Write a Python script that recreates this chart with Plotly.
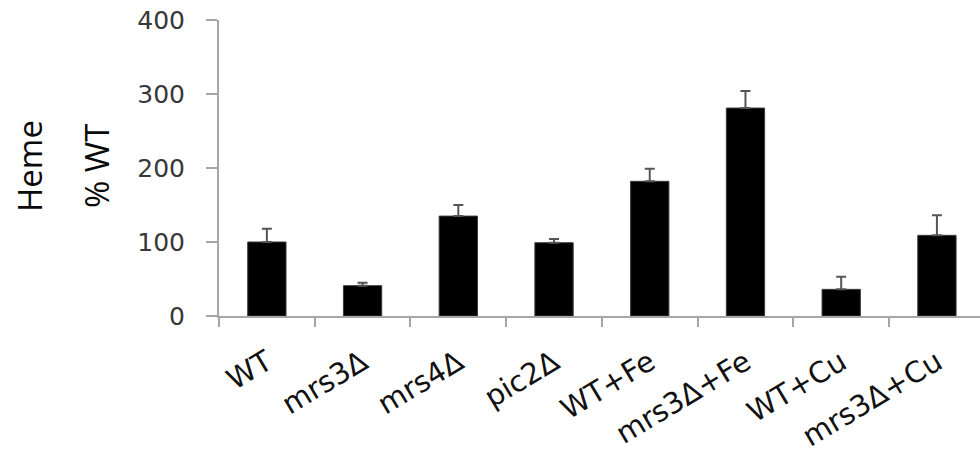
import plotly.graph_objects as go

# Heme content relative to wild type (%), mean with upper error
strains = ["WT", "mrs3Δ", "mrs4Δ", "pic2Δ", "WT+Fe", "mrs3Δ+Fe", "WT+Cu", "mrs3Δ+Cu"]
heme_pct = [100, 41, 135, 99, 182, 281, 36, 109]
heme_err = [18, 4, 15, 5, 17, 23, 17, 27]
y_ticks = [0, 100, 200, 300, 400]

axis_grey = "#a6a6a6"
label_grey = "#383838"

fig = go.Figure(
    go.Bar(
        x=strains,
        y=heme_pct,
        marker=dict(color="black", line=dict(color="#3a3a3a", width=1)),
        error_y=dict(
            type="data",
            symmetric=False,
            array=heme_err,
            arrayminus=[0] * len(heme_err),
            color="#555555",
            thickness=2,
            width=5,
        ),
        showlegend=False,
    )
)

fig.update_layout(
    width=980,
    height=460,
    margin=dict(l=219, r=0, t=20, b=144),
    paper_bgcolor="white",
    plot_bgcolor="white",
    bargap=0.6,
    font=dict(family="DejaVu Sans", color=label_grey),
    xaxis=dict(
        type="category",
        range=[-0.5, 7.45],
        showline=True,
        linecolor=axis_grey,
        linewidth=2,
        ticks="outside",
        tickson="boundaries",
        ticklen=9,
        tickwidth=2,
        tickcolor=axis_grey,
        tickangle=-31,
        ticklabelstandoff=16,
        tickfont=dict(family="DejaVu Sans", size=29, color="#111111"),
        showgrid=False,
        zeroline=False,
    ),
    yaxis=dict(
        range=[0, 400],
        tickvals=y_ticks,
        showline=True,
        linecolor=axis_grey,
        linewidth=2,
        ticks="outside",
        ticklen=11,
        tickwidth=2,
        tickcolor=axis_grey,
        ticklabelstandoff=16,
        tickfont=dict(family="DejaVu Sans", size=25, color=label_grey),
        showgrid=False,
        zeroline=False,
    ),
    annotations=[
        dict(
            text="Heme", x=29, y=166, xref="paper", yref="paper",
            textangle=-90, showarrow=False,
            font=dict(family="Open Sans", size=33, color="#0a0a0a"),
        ),
        dict(
            text="% WT", x=96, y=166, xref="paper", yref="paper",
            textangle=-90, showarrow=False,
            font=dict(family="Open Sans", size=33, color="#0a0a0a"),
        ),
    ],
)

# place the two-line axis title in pixel coordinates
plot_w = 980 - 219
plot_h = 460 - 20 - 144
for ann in fig.layout.annotations:
    px, py = ann.x, ann.y
    ann.x = (px - 219) / plot_w
    ann.y = (460 - 144 - py) / plot_h
    ann.xanchor = "center"
    ann.yanchor = "middle"

fig.write_html("out.html")
